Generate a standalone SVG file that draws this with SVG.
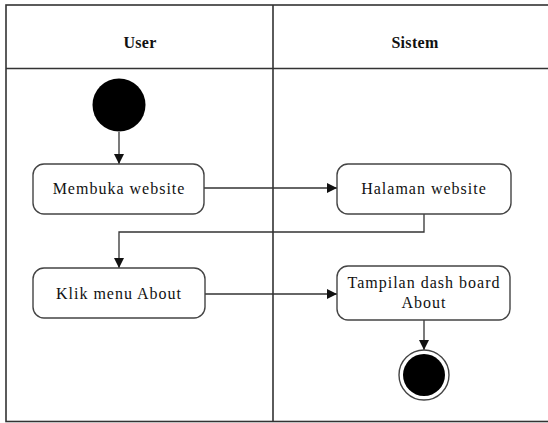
<svg xmlns="http://www.w3.org/2000/svg" width="548" height="423" viewBox="0 0 548 423">
  <style>
    .lane { fill: none; stroke: #333; stroke-width: 1.6; }
    .act { fill: #fff; stroke: #444; stroke-width: 1.4; }
    .flow { fill: none; stroke: #333; stroke-width: 1.3; }
    .lbl { font-family: "Liberation Serif", "Times New Roman", serif; font-size: 16px; letter-spacing: 1px; fill: #111; text-anchor: middle; }
    .hdr { font-family: "Liberation Serif", "Times New Roman", serif; font-size: 16px; font-weight: bold; letter-spacing: 0.3px; fill: #111; text-anchor: middle; }
  </style>
  <defs>
    <marker id="arrow" viewBox="0 0 10 10" refX="10" refY="5" markerWidth="10" markerHeight="10" markerUnits="userSpaceOnUse" orient="auto">
      <path d="M0,0 L10,5 L0,10 Z" fill="#111"/>
    </marker>
  </defs>
  <rect width="548" height="423" fill="#fff"/>

  <!-- swimlanes -->
  <g id="swimlanes">
    <rect class="lane" x="6" y="5" width="550" height="416.5"/>
    <line class="lane" x1="6" y1="68.5" x2="548" y2="68.5"/>
    <line class="lane" x1="273" y1="5" x2="273" y2="421.5"/>
    <text class="hdr" x="140" y="48">User</text>
    <text class="hdr" x="415" y="48">Sistem</text>
  </g>

  <!-- connectors -->
  <g id="connectors">
    <line class="flow" x1="119" y1="132" x2="119" y2="164" marker-end="url(#arrow)"/>
    <line class="flow" x1="204" y1="188" x2="337" y2="188" marker-end="url(#arrow)"/>
    <polyline class="flow" points="424,214 424,232 119,232 119,268" marker-end="url(#arrow)"/>
    <line class="flow" x1="205" y1="294" x2="337" y2="294" marker-end="url(#arrow)"/>
    <line class="flow" x1="424" y1="320" x2="424" y2="350" marker-end="url(#arrow)"/>
  </g>

  <g id="start">
    <circle cx="119" cy="105" r="26.5" fill="#000"/>
  </g>

  <g id="membuka-website">
    <rect class="act" x="33" y="164" width="171" height="50" rx="11"/>
    <text class="lbl" x="119" y="194">Membuka website</text>
  </g>

  <g id="halaman-website">
    <rect class="act" x="337" y="164" width="174" height="50" rx="11"/>
    <text class="lbl" x="424" y="194">Halaman website</text>
  </g>

  <g id="klik-menu-about">
    <rect class="act" x="33" y="268" width="172" height="50" rx="11"/>
    <text class="lbl" x="119" y="299">Klik menu About</text>
  </g>

  <g id="tampilan-dashboard">
    <rect class="act" x="337" y="266" width="173" height="54" rx="11"/>
    <text class="lbl" x="424" y="288">Tampilan dash board</text>
    <text class="lbl" x="424" y="308">About</text>
  </g>

  <g id="end">
    <circle cx="424" cy="375" r="25" fill="#fff" stroke="#444" stroke-width="1.4"/>
    <circle cx="424" cy="375" r="21" fill="#000"/>
  </g>
</svg>
